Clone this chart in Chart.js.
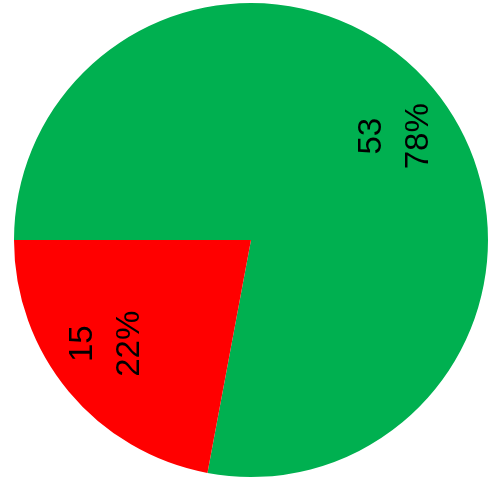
<!DOCTYPE html>
<html>
<head>
<meta charset="utf-8">
<script src="https://cdn.jsdelivr.net/npm/chart.js@4.4.1/dist/chart.umd.min.js"></script>
<style>
  html, body { margin: 0; padding: 0; background: #ffffff; }
  #wrap { width: 489px; height: 487px; position: relative; }
</style>
</head>
<body>
<div id="wrap"><canvas id="c" width="489" height="487"></canvas></div>
<script>
const categories = ["Green", "Red"];
const values = [53, 15];
const sliceColors = ["#00B050", "#FF0000"];

const total = values.reduce((a, b) => a + b, 0);

const labelPlugin = {
  id: 'sliceLabels',
  afterDatasetsDraw(chart) {
    const ctx = chart.ctx;
    const meta = chart.getDatasetMeta(0);
    meta.data.forEach((arc, i) => {
      const p = arc.getProps(['x', 'y', 'startAngle', 'endAngle', 'outerRadius'], true);
      const mid = (p.startAngle + p.endAngle) / 2 + 4 * Math.PI / 180;
      const r = p.outerRadius * 0.75;
      const cx = p.x + Math.cos(mid) * r;
      const cy = p.y + Math.sin(mid) * r;
      const pct = Math.round(values[i] / total * 100) + '%';
      ctx.save();
      ctx.translate(cx, cy);
      ctx.rotate(-Math.PI / 2);
      ctx.fillStyle = '#000000';
      ctx.font = '33px "Liberation Sans", Arial, sans-serif';
      ctx.textAlign = 'center';
      ctx.textBaseline = 'middle';
      const lh = 47;
      ctx.fillText(String(values[i]), 0, -lh / 2);
      ctx.fillText(pct, 0, lh / 2);
      ctx.restore();
    });
  }
};

new Chart(document.getElementById('c'), {
  type: 'pie',
  data: {
    labels: categories,
    datasets: [{
      data: values,
      backgroundColor: sliceColors,
      borderWidth: 0
    }]
  },
  options: {
    responsive: false,
    animation: false,
    rotation: 270,
    layout: { padding: { left: 14, right: 1, top: 3, bottom: 10 } },
    plugins: {
      legend: { display: false },
      tooltip: { enabled: false },
      title: { display: false }
    }
  },
  plugins: [labelPlugin]
});
</script>
</body>
</html>
